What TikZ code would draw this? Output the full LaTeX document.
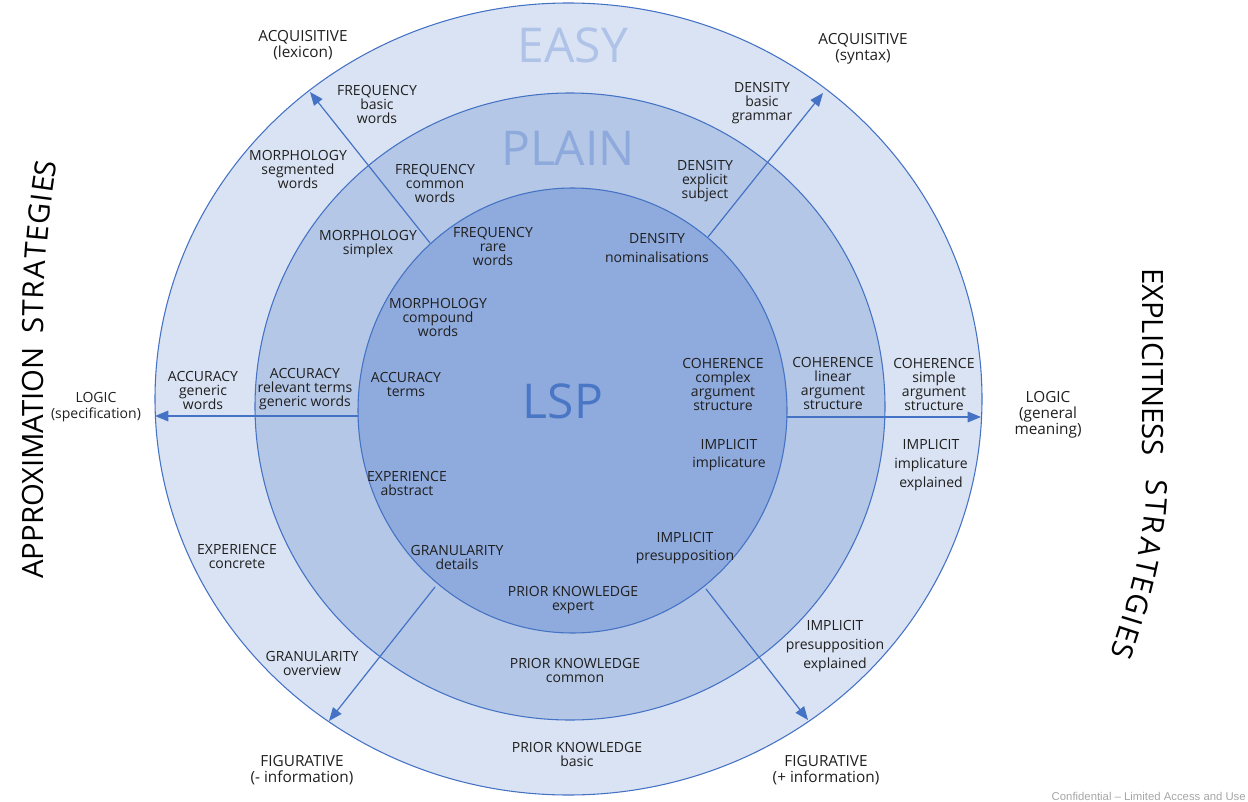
\documentclass[tikz,border=0pt]{standalone}
\usepackage{fontspec}
\setmainfont{Open Sans}
\newfontfamily\notefont{Liberation Sans}
\usetikzlibrary{arrows.meta}

\definecolor{ringeasy}{HTML}{DAE3F3}
\definecolor{ringplain}{HTML}{B4C7E7}
\definecolor{ringlsp}{HTML}{8FAADC}
\definecolor{rimblue}{HTML}{4472C4}
\definecolor{easyword}{HTML}{AEC3E7}
\definecolor{plainword}{HTML}{8EA9DB}
\definecolor{lspword}{HTML}{4A76C6}
\definecolor{labeltext}{HTML}{1F1F1F}
\definecolor{notegray}{HTML}{A6A6A6}

\tikzset{
  ring/.style={draw=rimblue,line width=0.8pt},
  stratarrow/.style={draw=rimblue,line width=0.9pt,-{Triangle[length=10pt,width=8pt]}},
  lbl/.style={align=center,inner sep=0pt,text=labeltext,font=\fontsize{10.5pt}{10.5pt}\selectfont},
  lblwide/.style={lbl,font=\fontsize{10.5pt}{14pt}\selectfont},
  outlbl/.style={lbl,font=\fontsize{11.5pt}{12pt}\selectfont},
  levelword/.style={inner sep=0pt,font=\fontsize{36pt}{36pt}\selectfont},
  sideword/.style={inner sep=0pt,text=black,font=\fontsize{22pt}{22pt}\selectfont},
  glyph/.style={sideword,sloped,allow upside down}
}

\begin{document}
\begin{tikzpicture}[x=0.75pt,y=-0.75pt,line cap=round,line join=round]
  \useasboundingbox (0,0) rectangle (1248,802);
  % the three levels
  \draw[ring,fill=ringeasy] (568.5,399) ellipse (413.5 and 396);
  \draw[ring,fill=ringplain] (570,406.5) ellipse (315 and 313.5);
  \draw[ring,fill=ringlsp] (572.5,410.5) ellipse (214.5 and 222.5);
  \node[levelword,text=easyword] (easy) at (573,45) {EASY};
  \node[levelword,text=plainword] (plain) at (568,148) {PLAIN};
  \node[levelword,text=lspword] (lsp) at (563,401) {LSP};

  % strategy arrows
  \coordinate (lexA) at (430,243);
  \coordinate (lexB) at (310,92);
  \coordinate (synA) at (708,237);
  \coordinate (synB) at (823,93);
  \coordinate (specA) at (358,416);
  \coordinate (specB) at (155,416);
  \coordinate (genA) at (787,417);
  \coordinate (genB) at (981,417);
  \coordinate (minusA) at (435,587);
  \coordinate (minusB) at (329,721);
  \coordinate (plusA) at (706,589);
  \coordinate (plusB) at (808,720);
  \draw[stratarrow] (lexA) -- (lexB);
  \draw[stratarrow] (synA) -- (synB);
  \draw[stratarrow] (specA) -- (specB);
  \draw[stratarrow] (genA) -- (genB);
  \draw[stratarrow] (minusA) -- (minusB);
  \draw[stratarrow] (plusA) -- (plusB);

  % outer ring
  \node[lbl] (fqbasic) at (377,104) {FREQUENCY\\basic\\words};
  \node[lbl] (mphseg) at (298,169) {MORPHOLOGY\\segmented\\words};
  \node[lbl] (accgen) at (203,390) {ACCURACY\\generic\\words};
  \node[lbl] (expcon) at (237,556) {EXPERIENCE\\concrete};
  \node[lbl] (grnover) at (312,663) {GRANULARITY\\overview};
  \node[lbl] (pkbasic) at (577,754) {PRIOR KNOWLEDGE\\basic};
  \node[lblwide] (imppreex) at (835,646) {IMPLICIT\\presupposition\\explained};
  \node[lblwide] (impimpex) at (931,465) {IMPLICIT\\implicature\\explained};
  \node[lbl] (cohsimple) at (934,384) {COHERENCE\\simple\\argument\\structure};
  \node[lbl] (denbasic) at (762,103) {DENSITY\\basic\\grammar};

  % middle ring
  \node[lbl] (fqcommon) at (435,183) {FREQUENCY\\common\\words};
  \node[lbl] (denexpl) at (705,181) {DENSITY\\explicit\\subject};
  \node[lbl] (mphsimplex) at (368,244) {MORPHOLOGY\\simplex};
  \node[lbl] (accrel) at (305,389) {ACCURACY\\relevant terms\\generic words};
  \node[lbl] (cohlinear) at (833,383) {COHERENCE\\linear\\argument\\structure};
  \node[lbl] (pkcommon) at (575,670) {PRIOR KNOWLEDGE\\common};

  % inner circle
  \node[lbl] (fqrare) at (493,246) {FREQUENCY\\rare\\words};
  \node[lblwide] (dennom) at (657,248) {DENSITY\\nominalisations};
  \node[lbl] (mphcomp) at (438,317) {MORPHOLOGY\\compound\\words};
  \node[lbl] (accterms) at (406,384) {ACCURACY\\terms};
  \node[lbl] (cohcomplex) at (723,384) {COHERENCE\\complex\\argument\\structure};
  \node[lblwide] (impimp) at (729,455) {IMPLICIT\\implicature};
  \node[lbl] (expabs) at (407,483) {EXPERIENCE\\abstract};
  \node[lbl] (grndet) at (457,557) {GRANULARITY\\details};
  \node[lblwide] (imppre) at (685,548) {IMPLICIT\\presupposition};
  \node[lbl] (pkexpert) at (573,600) {PRIOR KNOWLEDGE\\expert};

  % outside
  \node[outlbl] (acqlex) at (303,45) {ACQUISITIVE\\(lexicon)};
  \node[outlbl] (acqsyn) at (863,49) {ACQUISITIVE\\(syntax)};
  \node[outlbl,font=\fontsize{10.5pt}{12pt}\selectfont] (logspec) at (96,407) {LOGIC\\(specification)};
  \node[outlbl] (loggen) at (1048,415) {LOGIC\\(general\\meaning)};
  \node[outlbl] (figminus) at (302,770) {FIGURATIVE\\(- information)};
  \node[outlbl] (figplus) at (826,770) {FIGURATIVE\\(+ information)};

  % strategy titles
  \node[sideword,rotate=90] (approx) at (33,463) {APPROXIMATION};
  \path (33,334) .. controls (33,276) and (37,218) .. (47,160)
    node[glyph,pos=0.05] {S}
    node[glyph,pos=0.15] {T}
    node[glyph,pos=0.25] {R}
    node[glyph,pos=0.37] {A}
    node[glyph,pos=0.48] {T}
    node[glyph,pos=0.58] {E}
    node[glyph,pos=0.69] {G}
    node[glyph,pos=0.78] {I}
    node[glyph,pos=0.86] {E}
    node[glyph,pos=0.95] {S};
  \node[sideword,rotate=-90] (explicit) at (1153,362) {EXPLICITNESS};
  \path (1157,479) .. controls (1157,541) and (1140,602) .. (1120,659)
    node[glyph,pos=0.05] {S}
    node[glyph,pos=0.15] {T}
    node[glyph,pos=0.25] {R}
    node[glyph,pos=0.37] {A}
    node[glyph,pos=0.48] {T}
    node[glyph,pos=0.58] {E}
    node[glyph,pos=0.69] {G}
    node[glyph,pos=0.78] {I}
    node[glyph,pos=0.86] {E}
    node[glyph,pos=0.95] {S};

  \node[anchor=east,inner sep=0pt,text=notegray,font=\notefont\fontsize{8.5pt}{8.5pt}\selectfont] (note) at (1246,796) {Confidential – Limited Access and Use};
\end{tikzpicture}
\end{document}
